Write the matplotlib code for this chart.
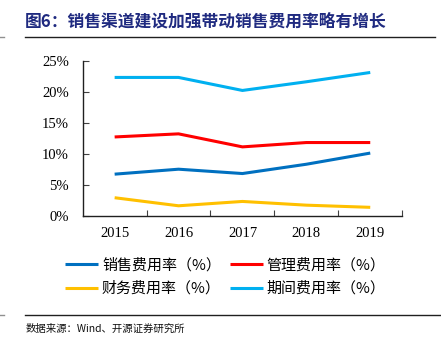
import matplotlib
matplotlib.use("Agg")
import matplotlib.pyplot as plt
from matplotlib.lines import Line2D

plt.rcParams['font.family'] = ['Liberation Serif', 'Noto Sans CJK SC', 'DejaVu Sans']

years = ['2015', '2016', '2017', '2018', '2019']
sales_rate = [6.7, 7.5, 6.8, 8.3, 10.1]
admin_rate = [12.7, 13.2, 11.1, 11.8, 11.8]
finance_rate = [2.9, 1.6, 2.3, 1.7, 1.35]
period_rate = [22.3, 22.3, 20.2, 21.6, 23.1]
yticks = [0, 5, 10, 15, 20, 25]
ytick_labels = ['0%', '5%', '10%', '15%', '20%', '25%']

series = [
    ('销售费用率（%）', sales_rate, '#0070C0'),
    ('管理费用率（%）', admin_rate, '#FF0000'),
    ('财务费用率（%）', finance_rate, '#FFC000'),
    ('期间费用率（%）', period_rate, '#00B0F0'),
]

fig = plt.figure(figsize=(4.41, 3.5), dpi=100)
ax = fig.add_axes([0.1875, 0.3837, 0.7245, 0.4429])

x = list(range(len(years)))
lines = []
for name, vals, col in series:
    ln, = ax.plot(x, vals, color=col, lw=2.2, label=name, solid_capstyle='butt')
    lines.append(ln)

ax.set_xlim(-0.5, len(years) - 0.5)
ax.set_ylim(0, 25)
ax.set_yticks(yticks)
ax.set_yticklabels(ytick_labels, fontsize=10.5, family='Liberation Serif')
ax.set_xticks([i + 0.5 for i in range(len(years))])
ax.set_xticklabels([])
ax.set_xticks(x, minor=True)
ax.set_xticklabels(years, minor=True, fontsize=10.5, family='Liberation Serif')
ax.tick_params(axis='x', which='minor', length=0, pad=8)
ax.tick_params(axis='both', which='major', direction='in', length=4, color='#404040')
ax.tick_params(axis='y', pad=10)
for s in ['top', 'right']:
    ax.spines[s].set_visible(False)
for s in ['left', 'bottom']:
    ax.spines[s].set_color('#202020')
    ax.spines[s].set_linewidth(1.0)

order = [0, 2, 1, 3]
leg = fig.legend([lines[i] for i in order], [series[i][0] for i in order],
                 loc='center', bbox_to_anchor=(0.511, 0.209), ncol=2,
                 frameon=False, handlelength=2.2, handletextpad=0.25, columnspacing=0.6,
                 labelspacing=0.6, prop={'family': ['Noto Sans CJK SC'], 'size': 10.8})

fig.text(0.057, 0.94, '图6：销售渠道建设加强带动销售费用率略有增长', fontsize=12.1,
         fontweight='bold', color='#1F2A80', family=['Noto Sans CJK SC'], va='center', ha='left')
fig.add_artist(Line2D([25/441, 435/441], [1 - 37/350, 1 - 37/350], color='#202020', lw=1.0))
fig.add_artist(Line2D([0, 4/441], [1 - 37/350, 1 - 37/350], color='#909090', lw=1.0))
fig.add_artist(Line2D([25/441, 440/441], [1 - 314.5/350, 1 - 314.5/350], color='#202020', lw=1.0))
fig.add_artist(Line2D([0, 4/441], [1 - 314.5/350, 1 - 314.5/350], color='#909090', lw=1.0))
fig.text(0.057, 1 - 329/350, '数据来源：Wind、开源证券研究所', fontsize=7.5,
         family=['Noto Sans CJK SC'], va='center', ha='left', color='#101010')

fig.savefig('out.png', dpi=100)
